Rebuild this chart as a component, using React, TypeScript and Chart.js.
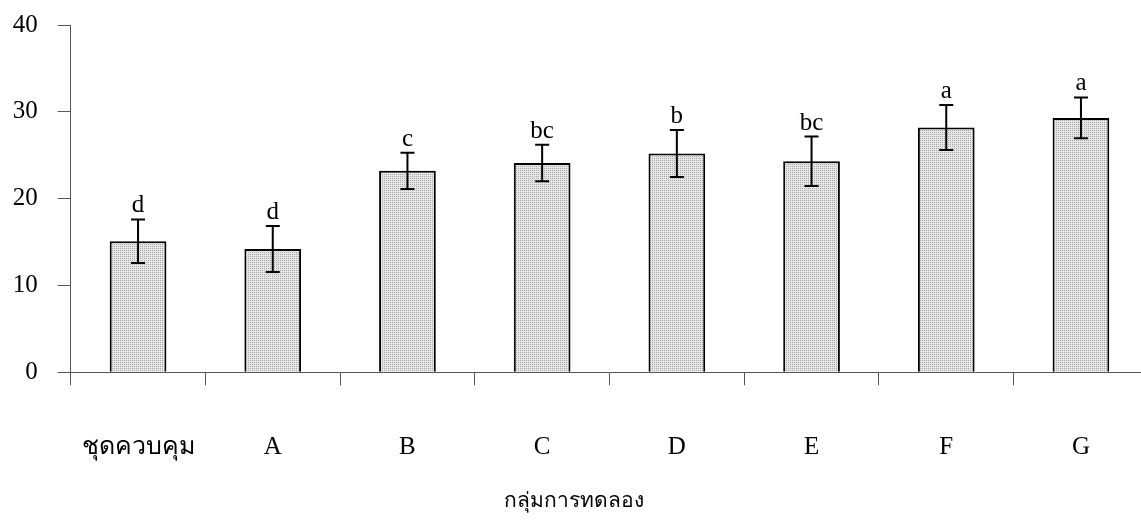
import React, { useEffect, useRef } from 'react';
import { Chart, registerables } from 'chart.js';

Chart.register(...registerables);

const categories = ['ชุดควบคุม', 'A', 'B', 'C', 'D', 'E', 'F', 'G'];
const means = [15.1, 14.2, 23.2, 24.1, 25.2, 24.3, 28.2, 29.3];
const errors = [2.5, 2.65, 2.1, 2.1, 2.7, 2.85, 2.6, 2.35];
const letters = ['d', 'd', 'c', 'bc', 'b', 'bc', 'a', 'a'];
const axisTitle = 'กลุ่มการทดลอง';
const yMin = 0;
const yMax = 40;
const yStep = 10;

const FONT = "'Liberation Serif', 'Times New Roman', serif";
const TICK_SIZE = 25;

const errorBarPlugin = {
  id: 'errorBars',
  afterDatasetsDraw(chart: any) {
    const ctx = chart.ctx;
    const meta = chart.getDatasetMeta(0);
    const y = chart.scales.y;
    ctx.save();
    ctx.strokeStyle = '#000';
    ctx.lineWidth = 2;
    ctx.fillStyle = '#000';
    ctx.font = `${TICK_SIZE}px ${FONT}`;
    ctx.textAlign = 'center';
    ctx.textBaseline = 'alphabetic';
    meta.data.forEach((bar: any, i: number) => {
      const x = bar.x;
      const top = y.getPixelForValue(means[i] + errors[i]);
      const bot = y.getPixelForValue(means[i] - errors[i]);
      const cap = 7;
      ctx.beginPath();
      ctx.moveTo(x, top);
      ctx.lineTo(x, bot);
      ctx.moveTo(x - cap, top);
      ctx.lineTo(x + cap, top);
      ctx.moveTo(x - cap, bot);
      ctx.lineTo(x + cap, bot);
      ctx.stroke();
      ctx.fillText(letters[i], x, top - 7);
    });
    ctx.restore();
  },
};

function makePattern(): CanvasPattern | string {
  const c = document.createElement('canvas');
  c.width = 2;
  c.height = 2;
  const g = c.getContext('2d');
  if (!g) return '#d7d7d7';
  g.fillStyle = '#e6e6e6';
  g.fillRect(0, 0, 2, 2);
  g.fillStyle = '#a8a8a8';
  g.fillRect(0, 0, 1, 1);
  const p = g.createPattern(c, 'repeat');
  return p || '#d7d7d7';
}

export default function App() {
  const ref = useRef<HTMLCanvasElement>(null);

  useEffect(() => {
    if (!ref.current) return;
    const titleFontSize = 21;
    const titlePadBottom = 8;
    const titleH = titleFontSize * 1.2 + titlePadBottom;
    const axisBottom = 372.3;
    const chart = new Chart(ref.current, {
      type: 'bar',
      data: {
        labels: categories,
        datasets: [
          {
            data: means,
            backgroundColor: makePattern() as any,
            borderColor: '#000',
            borderWidth: 2,
            barPercentage: 0.421,
            categoryPercentage: 1,
          },
        ],
      },
      options: {
        responsive: false,
        animation: false,
        layout: { padding: { top: 25, right: 1.7, left: 0, bottom: 0 } },
        plugins: {
          legend: { display: false },
          tooltip: { enabled: false },
          title: {
            display: true,
            text: axisTitle,
            position: 'bottom',
            color: '#000',
            font: { family: FONT, size: titleFontSize, weight: 'normal' },
            padding: { top: 0, bottom: titlePadBottom },
          },
        },
        scales: {
          x: {
            grid: {
              display: true,
              drawOnChartArea: false,
              tickLength: 13,
              color: '#555',
              offset: true,
            },
            border: { display: true, color: '#555', width: 1 },
            ticks: {
              padding: 47,
              color: '#000',
              font: { family: FONT, size: TICK_SIZE },
              maxRotation: 0,
              autoSkip: false,
            },
            afterFit: (s: any) => {
              s.height = 522 - axisBottom - titleH;
            },
          },
          y: {
            min: yMin,
            max: yMax,
            ticks: {
              stepSize: yStep,
              padding: 20,
              color: '#000',
              font: { family: FONT, size: TICK_SIZE },
            },
            grid: {
              drawOnChartArea: false,
              tickLength: 13,
              color: '#555',
            },
            border: { display: true, color: '#555', width: 1 },
            afterFit: (s: any) => {
              s.width = 70.7;
              s.paddingTop = 0;
              s.paddingBottom = 0;
            },
          },
        },
      },
      plugins: [errorBarPlugin],
    });
    return () => chart.destroy();
  }, []);

  return (
    <div
      style={{
        position: 'fixed',
        left: 0,
        top: 0,
        width: 1141,
        height: 522,
        overflow: 'hidden',
        background: '#fff',
      }}
    >
      <canvas ref={ref} width={1150} height={522} style={{ display: 'block' }} />
    </div>
  );
}
